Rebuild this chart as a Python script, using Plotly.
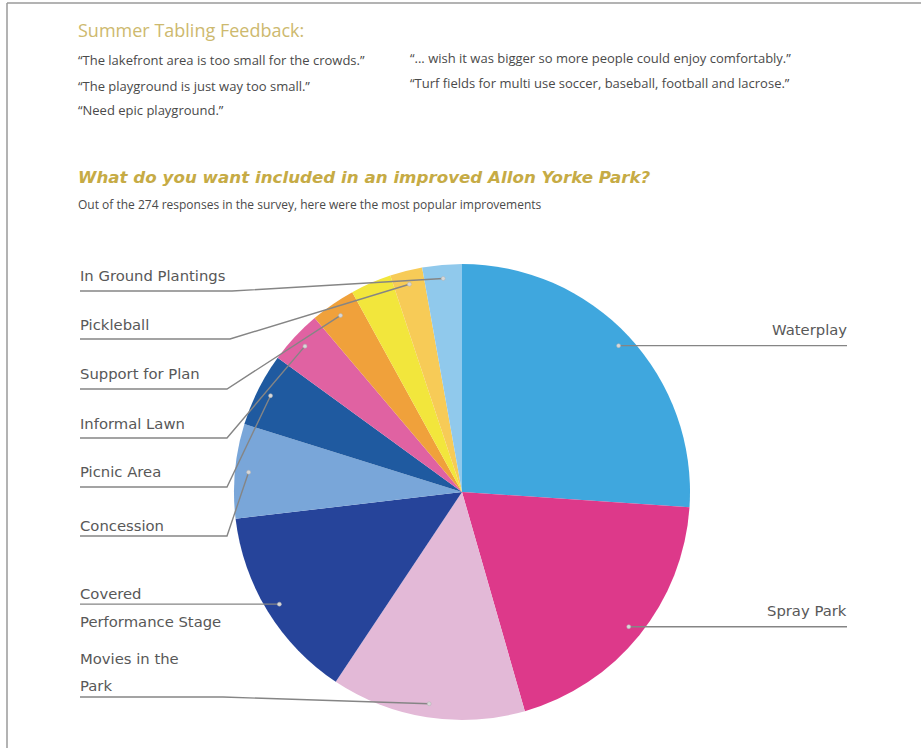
import math
import plotly.graph_objects as go

# ---------------- data ----------------
categories = [
    "Waterplay", "Spray Park", "Movies in the Park", "Covered Performance Stage",
    "Concession", "Picnic Area", "Informal Lawn", "Support for Plan",
    "Unlabeled", "Pickleball", "In Ground Plantings",
]
values = [26.1, 19.5, 13.8, 13.8, 6.7, 5.2, 3.8, 3.2, 2.9, 2.3, 2.8]
colors = [
    "#3FA7DE", "#DD398A", "#E3B9D7", "#26449A", "#79A6D9", "#1F5AA0",
    "#E062A2", "#F0A13B", "#F2E63C", "#F7CB57", "#90C9EC",
]
header_title = "Summer Tabling Feedback:"
quotes_left = [
    "\u201cThe lakefront area is too small for the crowds.\u201d",
    "\u201cThe playground is just way too small.\u201d",
    "\u201cNeed epic playground.\u201d",
]
quotes_right = [
    "\u201c... wish it was bigger so more people could enjoy comfortably.\u201d",
    "\u201cTurf fields for multi use soccer, baseball, football and lacrose.\u201d",
]
chart_title = "What do you want included in an improved Allon Yorke Park?"
chart_subtitle = "Out of the 274 responses in the survey, here were the most popular improvements"

# ---------------- layout constants ----------------
W, H = 921, 748
CX, CY, R = 462, 492, 228
LBL_X = 80
RIGHT_END = 847
LINE_COL = "#858585"
LBL_FONT = dict(family="DejaVu Sans", size=14.8, color="#585858")

# left label placement: index -> (text lines [(text, y)], underline y, elbow x)
left_specs = {
    10: ([("In Ground Plantings", 275)], 291, 232),
    9: ([("Pickleball", 324)], 339, 230),
    7: ([("Support for Plan", 373)], 389, 227),
    6: ([("Informal Lawn", 423)], 438, 227),
    5: ([("Picnic Area", 471)], 487, 227),
    4: ([("Concession", 525)], 536, 227),
    3: ([("Covered", 593), ("Performance Stage", 621)], None, None),
    2: ([("Movies in the", 658), ("Park", 685)], 697, 223),
}
right_specs = {0: "Waterplay", 1: "Spray Park"}

fig = go.Figure()
fig.add_trace(go.Pie(
    labels=categories, values=values, sort=False, direction="clockwise", rotation=0,
    marker=dict(colors=colors, line=dict(width=0)), textinfo="none",
    hoverinfo="label+percent", showlegend=False,
    domain=dict(x=[(CX - R) / W, (CX + R) / W], y=[(H - CY - R) / H, (H - CY + R) / H]),
))

# dot positions at slice mid-angles
total = sum(values)
cum = 0.0
dots = []
for v in values:
    frac = (cum + v / 2) / total
    th = math.radians(90 - 360 * frac)
    dots.append((CX + 0.94 * R * math.cos(th), CY - 0.94 * R * math.sin(th)))
    cum += v

shapes = []
annotations = []

for i, (lines, uy, ex) in left_specs.items():
    dx, dy = dots[i]
    if uy is None:
        uy = dy
        path = f"M {LBL_X},{uy} L {dx},{dy}"
    else:
        path = f"M {LBL_X},{uy} L {ex},{uy} L {dx},{dy}"
    shapes.append(dict(type="path", xref="x", yref="y", path=path,
                       line=dict(color=LINE_COL, width=1.4)))
    for txt, ty in lines:
        annotations.append(dict(x=LBL_X - 2, y=ty, xref="x", yref="y", text=txt,
                                showarrow=False, xanchor="left", yanchor="middle",
                                font=LBL_FONT))

for i, txt in right_specs.items():
    dx, dy = dots[i]
    shapes.append(dict(type="line", xref="x", yref="y", x0=dx, y0=dy, x1=RIGHT_END, y1=dy,
                       line=dict(color=LINE_COL, width=1.4)))
    annotations.append(dict(x=RIGHT_END + 2, y=dy - 16, xref="x", yref="y", text=txt,
                            showarrow=False, xanchor="right", yanchor="middle",
                            font=LBL_FONT))

# dots
for i in list(left_specs.keys()) + list(right_specs.keys()):
    dx, dy = dots[i]
    shapes.append(dict(type="circle", xref="x", yref="y", x0=dx - 2, x1=dx + 2,
                       y0=dy - 2, y1=dy + 2, fillcolor="#d8d8d8",
                       line=dict(color="#b0b0b0", width=0.5)))

# header texts
HEAD_FONT = "Open Sans"
annotations.append(dict(x=76, y=30, xref="x", yref="y", text=header_title, showarrow=False,
                        xanchor="left", yanchor="middle",
                        font=dict(family=HEAD_FONT, size=18, color="#CDB96E")))
for txt, ty in zip(quotes_left, [60, 86, 110]):
    annotations.append(dict(x=76, y=ty, xref="x", yref="y", text=txt, showarrow=False,
                            xanchor="left", yanchor="middle",
                            font=dict(family=HEAD_FONT, size=13, color="#4a4a4a")))
for txt, ty in zip(quotes_right, [58, 83]):
    annotations.append(dict(x=408, y=ty, xref="x", yref="y", text=txt, showarrow=False,
                            xanchor="left", yanchor="middle",
                            font=dict(family=HEAD_FONT, size=13, color="#4a4a4a")))
annotations.append(dict(x=76, y=177, xref="x", yref="y", text=f"<b><i>{chart_title}</i></b>",
                        showarrow=False, xanchor="left", yanchor="middle",
                        font=dict(family="DejaVu Sans", size=16.7, color="#C6AB45")))
annotations.append(dict(x=76, y=204, xref="x", yref="y", text=chart_subtitle, showarrow=False,
                        xanchor="left", yanchor="middle",
                        font=dict(family=HEAD_FONT, size=12, color="#4a4a4a")))

# frame
shapes.append(dict(type="line", xref="x", yref="y", x0=7, y0=3, x1=7, y1=748,
                   line=dict(color="#9a9a9a", width=1.5)))
shapes.append(dict(type="line", xref="x", yref="y", x0=7, y0=3, x1=921, y1=3,
                   line=dict(color="#9a9a9a", width=1.5)))

fig.update_layout(
    width=W, height=H, margin=dict(l=0, r=0, t=0, b=0),
    paper_bgcolor="white", plot_bgcolor="rgba(0,0,0,0)",
    xaxis=dict(range=[0, W], visible=False, fixedrange=True, domain=[0, 1]),
    yaxis=dict(range=[H, 0], visible=False, fixedrange=True, domain=[0, 1]),
    shapes=shapes, annotations=annotations, showlegend=False,
)
fig.write_html("out.html", config={"displayModeBar": False},
               post_script="document.body.style.margin='0';document.body.style.overflow='hidden';")
